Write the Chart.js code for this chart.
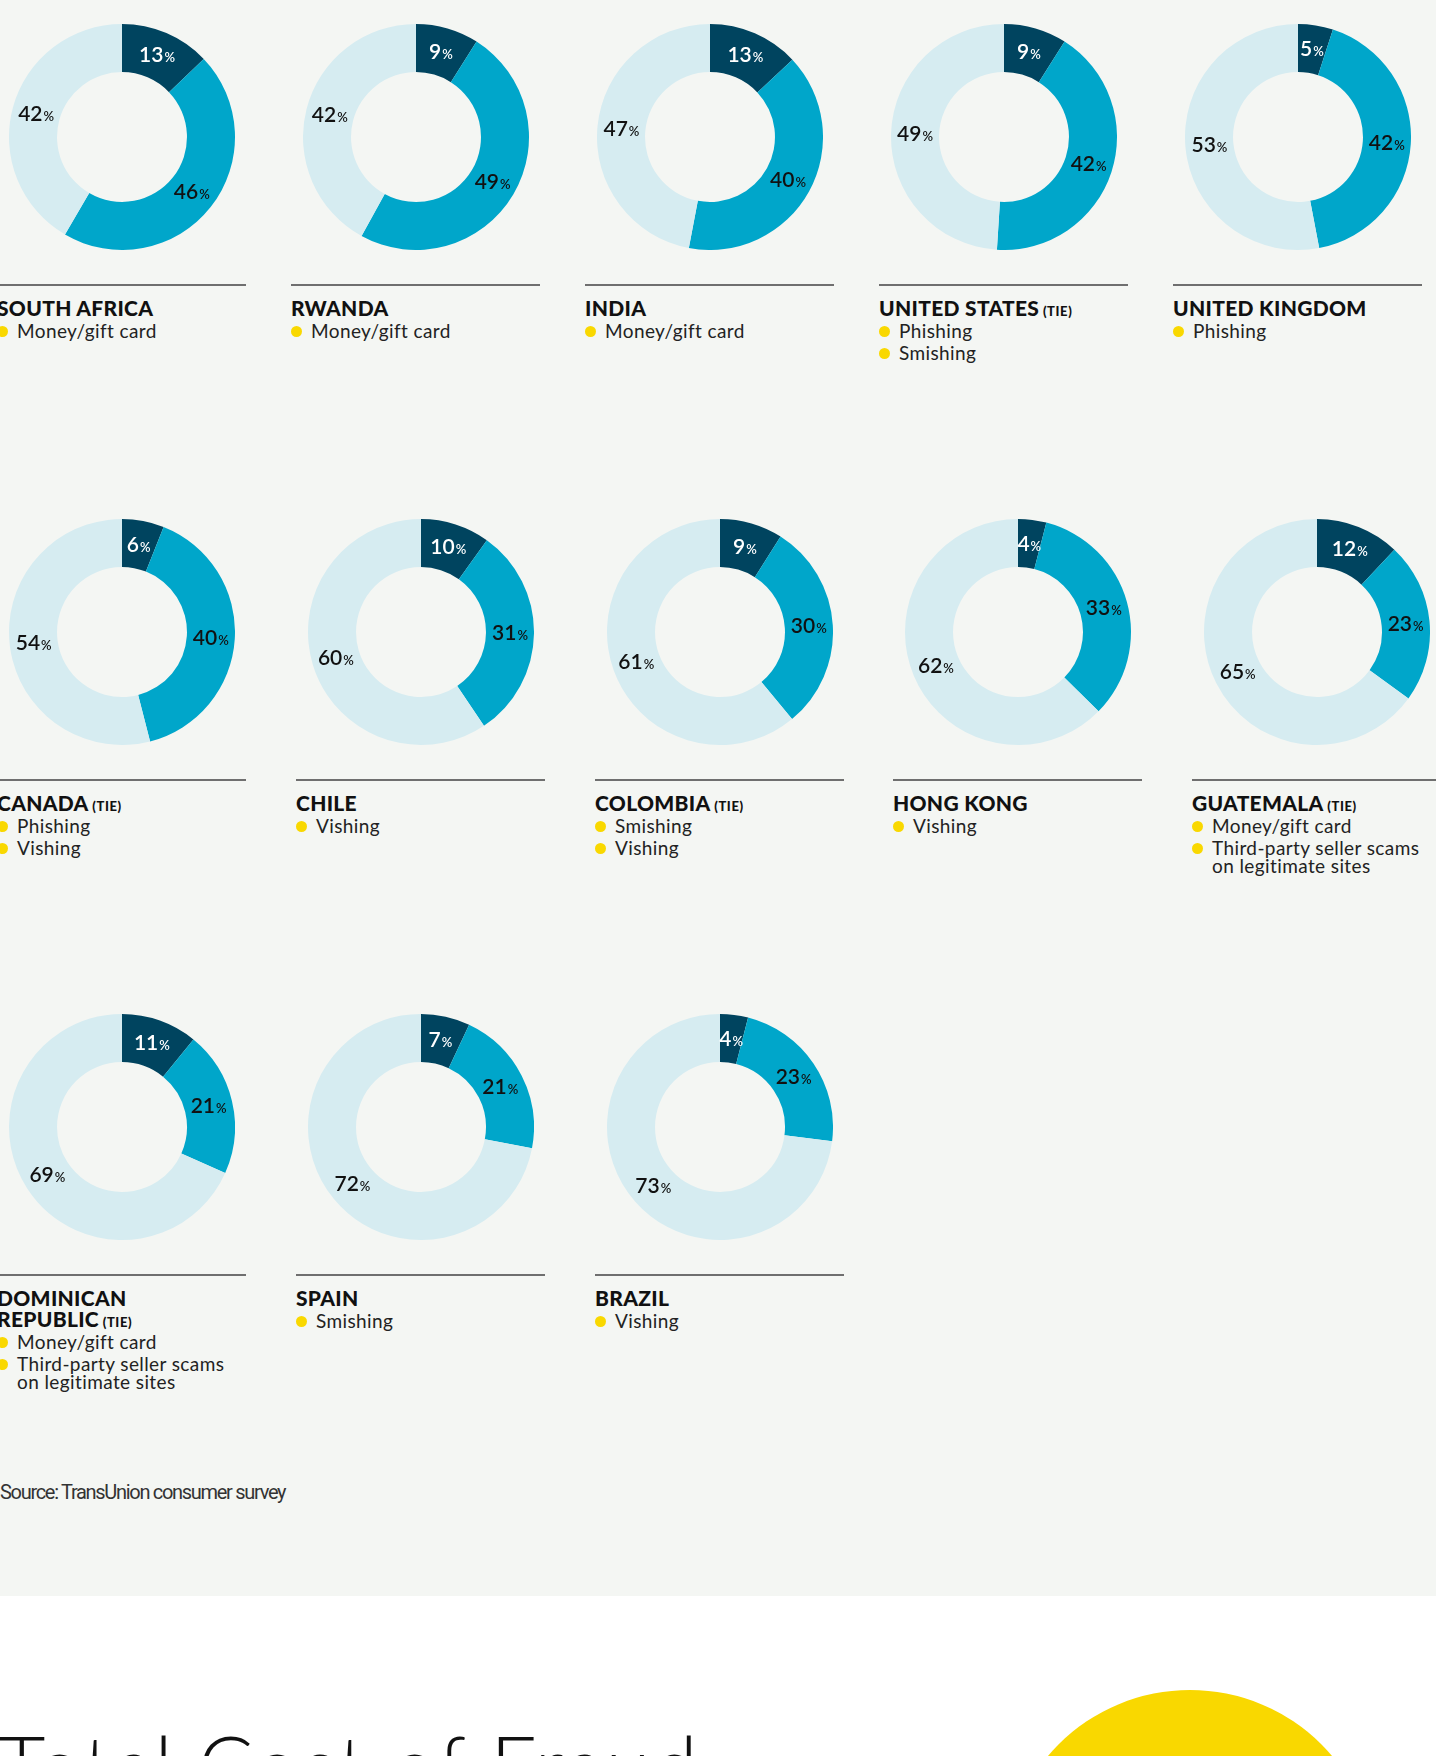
<!DOCTYPE html>
<html>
<head>
<meta charset="utf-8">
<title>Top fraud schemes by country</title>
<script src="https://cdn.jsdelivr.net/npm/chart.js@4.4.1/dist/chart.umd.min.js"></script>
<style>
  html, body { margin: 0; padding: 0; width: 1436px; height: 1756px; overflow: hidden; background: #fff; font-family: Lato, "Open Sans", sans-serif; }
  #panel { position: absolute; left: 0; top: 0; width: 1436px; height: 1596px; background: #f4f6f3; }
  .cell { position: absolute; width: 249px; }
  .cell canvas { position: absolute; }
  .rule { position: absolute; left: 0; top: 0; width: 249px; height: 2px; background: #6f6f6f; }
  .text { position: absolute; left: 0; top: 13px; width: 270px; }
  .title { font-weight: 900; font-size: 21px; line-height: 21px; letter-spacing: 0.3px; color: #111; white-space: pre-line; }
  .tie { font-size: 13px; line-height: 1; font-weight: 900; letter-spacing: 0.6px; }
  .items { list-style: none; margin: 0; padding: 0; }
  .items li { position: relative; padding-left: 20px; margin-top: 4px; font-size: 19px; line-height: 18px; letter-spacing: 0.4px; color: #222; white-space: pre-line; }
  .items li::before { content: ''; position: absolute; left: 0; top: 4px; width: 11px; height: 11px; border-radius: 50%; background: #f9d800; }
  #source { position: absolute; left: 0; top: 1482px; font-family: Roboto, sans-serif; font-size: 20px; line-height: 20px; letter-spacing: -1.3px; color: #333; }
  #heading { position: absolute; left: -2px; top: 1723px; font-weight: 300; font-size: 82px; line-height: 82px; letter-spacing: 1.6px; color: #111; white-space: nowrap; }
  #sun { position: absolute; left: 1004px; top: 1690px; width: 372px; height: 372px; border-radius: 50%; background: #f9d800; }
</style>
</head>
<body>
<div id="panel"></div>
<div id="source">Source: TransUnion consumer survey</div>
<div id="heading">Total Cost of Fraud</div>
<div id="sun"></div>

<script>
// survey shares per country (percent)
const countries = ['SOUTH AFRICA', 'RWANDA', 'INDIA', 'UNITED STATES', 'UNITED KINGDOM',
  'CANADA', 'CHILE', 'COLOMBIA', 'HONG KONG', 'GUATEMALA',
  'DOMINICAN\nREPUBLIC', 'SPAIN', 'BRAZIL'];
const tied = [false, false, false, true, false, true, false, true, false, true, true, false, false];
const darkShare = [13, 9, 13, 9, 5, 6, 10, 9, 4, 12, 11, 7, 4];
const midShare = [46, 49, 40, 42, 42, 40, 31, 30, 33, 23, 21, 21, 23];
const lightShare = [42, 42, 47, 49, 53, 54, 60, 61, 62, 65, 69, 72, 73];
const topSchemes = [
  ['Money/gift card'], ['Money/gift card'], ['Money/gift card'], ['Phishing', 'Smishing'], ['Phishing'],
  ['Phishing', 'Vishing'], ['Vishing'], ['Smishing', 'Vishing'], ['Vishing'],
  ['Money/gift card', 'Third-party seller scams\non legitimate sites'],
  ['Money/gift card', 'Third-party seller scams\non legitimate sites'], ['Smishing'], ['Vishing']
];
const sliceNames = ['dark', 'mid', 'light'];
const sliceColors = ['#00445f', '#00a6ca', '#d6ecf1'];

// layout: rule position of each grid row and column pitch
const rowRuleY = [284, 779, 1274];
const rowLeft = [-3, -2.7, -2.7];
const rowPitch = [294, 298.7, 298.7];
const perRow = 5;
const ringRadius = 113;
const ringDrop = 147; // ring centre sits this far above the rule

const pctLabels = {
  id: 'pctLabels',
  afterDatasetsDraw(chart) {
    const ctx = chart.ctx;
    const values = chart.data.datasets[0].data;
    chart.getDatasetMeta(0).data.forEach((arc, k) => {
      const p = arc.tooltipPosition();
      const num = String(values[k]);
      ctx.save();
      ctx.font = '600 21px Lato';
      const w1 = ctx.measureText(num).width;
      ctx.font = '600 13px Lato';
      const w2 = ctx.measureText('%').width;
      const x0 = p.x - (w1 + w2 + 1) / 2;
      const y0 = p.y + 7;
      ctx.fillStyle = k === 0 ? '#ffffff' : '#111111';
      ctx.textAlign = 'left';
      ctx.textBaseline = 'alphabetic';
      ctx.font = '600 21px Lato';
      ctx.fillText(num, x0, y0);
      ctx.font = '600 13px Lato';
      ctx.fillText('%', x0 + w1 + 1, y0);
      ctx.restore();
    });
  }
};

countries.forEach((name, i) => {
  const r = Math.floor(i / perRow);
  const c = i % perRow;
  const left = Math.round(rowLeft[r] + c * rowPitch[r]);

  const cell = document.createElement('div');
  cell.className = 'cell';
  cell.style.left = left + 'px';
  cell.style.top = rowRuleY[r] + 'px';

  const canvas = document.createElement('canvas');
  canvas.width = ringRadius * 2;
  canvas.height = ringRadius * 2;
  canvas.style.left = Math.round(124.5 - ringRadius) + 'px';
  canvas.style.top = (-ringDrop - ringRadius) + 'px';
  cell.appendChild(canvas);

  const rule = document.createElement('div');
  rule.className = 'rule';
  cell.appendChild(rule);

  const text = document.createElement('div');
  text.className = 'text';
  const title = document.createElement('div');
  title.className = 'title';
  title.textContent = name;
  if (tied[i]) {
    const tie = document.createElement('span');
    tie.className = 'tie';
    tie.textContent = ' (TIE)';
    title.appendChild(tie);
  }
  text.appendChild(title);
  const list = document.createElement('ul');
  list.className = 'items';
  topSchemes[i].forEach(s => {
    const li = document.createElement('li');
    li.textContent = s;
    list.appendChild(li);
  });
  text.appendChild(list);
  cell.appendChild(text);

  document.getElementById('panel').appendChild(cell);

  new Chart(canvas, {
    type: 'doughnut',
    data: {
      labels: sliceNames,
      datasets: [{
        data: [darkShare[i], midShare[i], lightShare[i]],
        backgroundColor: sliceColors,
        borderWidth: 0,
        hoverOffset: 0
      }]
    },
    options: {
      responsive: false,
      animation: false,
      events: [],
      cutout: '57.5%',
      layout: { padding: 0 },
      plugins: { legend: { display: false }, tooltip: { enabled: false } }
    },
    plugins: [pctLabels]
  });
});
</script>
</body>
</html>
